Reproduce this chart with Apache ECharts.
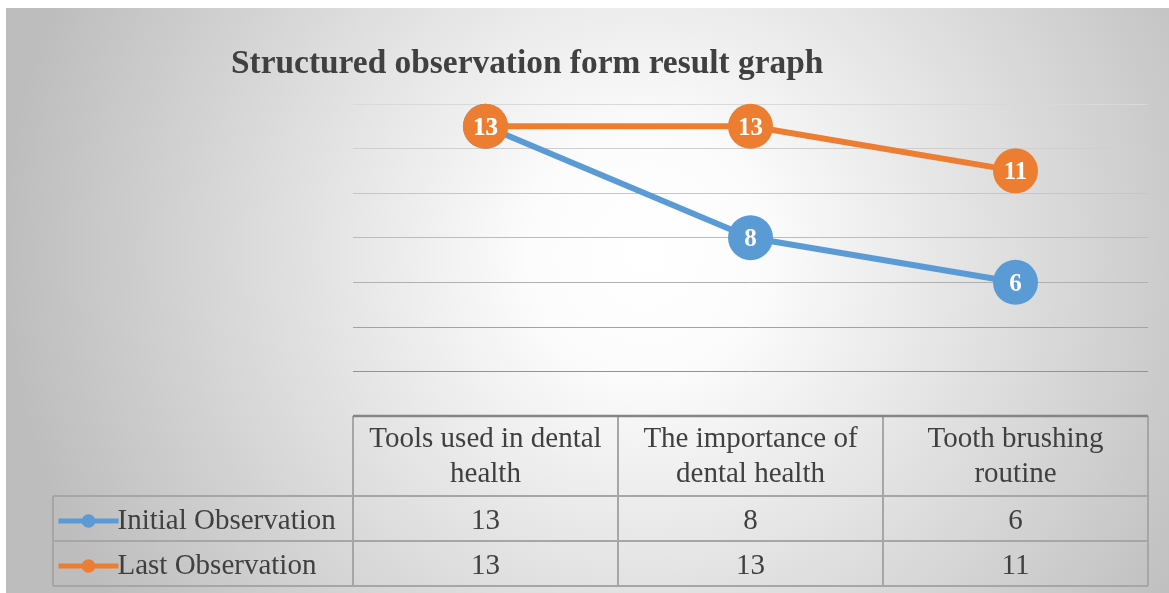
<!DOCTYPE html>
<html>
<head>
<meta charset="utf-8">
<script src="https://cdn.jsdelivr.net/npm/echarts@6/dist/echarts.min.js"></script>
<style>
    html, body { margin: 0; padding: 0; background: #fff; }
    #main { width: 1169px; height: 593px; }
</style>
</head>
<body>
<div id="main"></div>
<script>
// 数据
var categories = ['Tools used in dental\nhealth', 'The importance of\ndental health', 'Tooth brushing\nroutine'];
var seriesNames = ['Initial Observation', 'Last Observation'];
var initialValues = [13, 8, 6];
var lastValues = [13, 13, 11];
var seriesColors = ['#5b9bd5', '#ed7d31'];

var FONT = '"Liberation Serif", "DejaVu Serif", serif';
var TEXT_COLOR = '#404040';
var TABLE_FONT_SIZE = 29;

// 布局
var gridLeft = 353, gridRight = 1148, gridTop = 104, gridBottom = 416;
var headerH = 80, rowH = 45, tableLeft = 53;

var dom = document.getElementById('main');
var myChart = echarts.init(dom);

/**
 * 表格（图表下方的数据表）
 */
function buildTable() {
    var els = [];
    var colW = (gridRight - gridLeft) / categories.length;
    var allValues = [initialValues, lastValues];
    var tableBottom = gridBottom + headerH + rowH * seriesNames.length;
    var border = { stroke: '#a6a6a6', lineWidth: 2 };

    // 竖线
    for (var i = 0; i <= categories.length; i++) {
        var x = gridLeft + colW * i;
        els.push({ type: 'line', shape: { x1: x, y1: gridBottom, x2: x, y2: tableBottom }, style: border });
    }
    els.push({ type: 'line', shape: { x1: tableLeft, y1: gridBottom + headerH, x2: tableLeft, y2: tableBottom }, style: border });
    // 横线
    for (var r = 0; r <= seriesNames.length; r++) {
        var y = gridBottom + headerH + rowH * r;
        els.push({ type: 'line', shape: { x1: tableLeft, y1: y, x2: gridRight, y2: y }, style: border });
    }
    els.push({ type: 'line', shape: { x1: gridLeft, y1: gridBottom, x2: gridRight, y2: gridBottom }, style: { stroke: '#858585', lineWidth: 2.5 } });

    // 表头
    categories.forEach(function (c, i) {
        els.push({
            type: 'text',
            style: {
                text: c, x: gridLeft + colW * (i + 0.5), y: gridBottom + headerH / 2 + 1,
                align: 'center', verticalAlign: 'middle', lineHeight: 35,
                fontSize: TABLE_FONT_SIZE, fontFamily: FONT, fill: TEXT_COLOR
            }
        });
    });
    // 数值
    allValues.forEach(function (vals, r) {
        vals.forEach(function (v, i) {
            els.push({
                type: 'text',
                style: {
                    text: String(v), x: gridLeft + colW * (i + 0.5), y: gridBottom + headerH + rowH * (r + 0.5) + 3,
                    align: 'center', verticalAlign: 'middle',
                    fontSize: TABLE_FONT_SIZE, fontFamily: FONT, fill: TEXT_COLOR
                }
            });
        });
    });
    return els;
}

var graphic = [{
    type: 'rect',
    z: -10,
    shape: { x: 6, y: 8, width: 1163, height: 585 },
    style: {
        fill: {
            type: 'radial', x: 0.55, y: 0.42, r: 1.1,
            colorStops: [
                { offset: 0, color: '#ffffff' },
                { offset: 0.18, color: '#fcfcfc' },
                { offset: 1, color: '#bdbdbd' }
            ]
        }
    }
}].concat(buildTable());

var series = [initialValues, lastValues].map(function (vals, i) {
    return {
        name: seriesNames[i],
        type: 'line',
        data: vals,
        symbol: 'circle',
        symbolSize: 45,
        color: seriesColors[i],
        lineStyle: { width: 6, color: seriesColors[i] },
        label: {
            show: true,
            position: 'inside',
            offset: [0, 2],
            color: '#fff',
            fontWeight: 'bold',
            fontSize: 25,
            fontFamily: FONT
        },
        emphasis: { disabled: true }
    };
});

var option = {
    backgroundColor: '#ffffff',
    animation: false,
    title: {
        text: 'Structured observation form result graph',
        left: 226,
        top: 43,
        textStyle: { fontSize: 33.4, fontWeight: 'bold', fontFamily: FONT, color: TEXT_COLOR }
    },
    legend: {
        orient: 'vertical',
        left: 51,
        top: 501,
        itemGap: 15,
        itemWidth: 60,
        itemHeight: 17,
        data: seriesNames,
        lineStyle: { width: 5 },
        textStyle: { fontSize: TABLE_FONT_SIZE, fontFamily: FONT, color: TEXT_COLOR, lineHeight: 30, padding: [0, 0, 0, -6] }
    },
    grid: {
        left: gridLeft,
        right: 1169 - gridRight,
        top: gridTop,
        bottom: 593 - gridBottom,
        containLabel: false
    },
    xAxis: {
        type: 'category',
        data: categories,
        boundaryGap: true,
        axisLine: { show: false },
        axisTick: { show: false },
        axisLabel: { show: false }
    },
    yAxis: {
        type: 'value',
        min: 0,
        max: 14,
        interval: 2,
        axisLabel: { show: false },
        axisLine: { show: false },
        axisTick: { show: false },
        splitLine: {
            lineStyle: {
                width: 1,
                color: ['rgba(0,0,0,0)', '#939393', '#a3a3a3', '#b0b0b0', '#bcbcbc', '#c6c6c6', '#cfcfcf', '#d9d9d9']
            }
        }
    },
    graphic: graphic,
    series: series
};

myChart.setOption(option, true);
</script>
</body>
</html>
